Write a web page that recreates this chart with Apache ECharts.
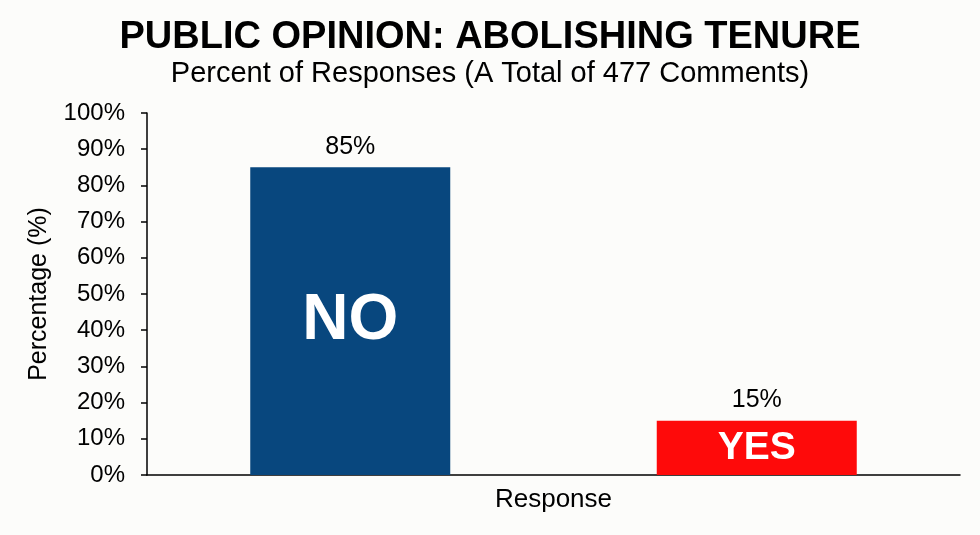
<!DOCTYPE html>
<html>
<head>
<meta charset="utf-8">
<script src="https://cdn.jsdelivr.net/npm/echarts@6/dist/echarts.min.js"></script>
<style>
  html, body { margin: 0; padding: 0; background: #fcfcfa; }
  #chart { width: 980px; height: 535px; }
</style>
</head>
<body>
<div id="chart"></div>
<script>
// data
const categories = ['NO', 'YES'];
const percentages = [85, 15];
const barColors = ['#08477e', '#fe0a0a'];
const insideSizes = [64, 39];

const chart = echarts.init(document.getElementById('chart'));
const font = '"Liberation Sans", Arial, sans-serif';

const option = {
    backgroundColor: '#fcfcfa',
    textStyle: { fontFamily: font },
    title: {
        text: 'PUBLIC OPINION: ABOLISHING TENURE',
        subtext: 'Percent of Responses (A Total of 477 Comments)',
        left: 'center',
        top: 14,
        itemGap: 2,
        textStyle: { fontFamily: font, fontSize: 38, fontWeight: 'bold', color: '#000' },
        subtextStyle: { fontFamily: font, fontSize: 29, color: '#000' },
    },
    grid: { left: 147, right: 20, top: 113, bottom: 60 },
    xAxis: {
        type: 'category',
        data: categories,
        name: 'Response',
        nameLocation: 'middle',
        nameGap: 12,
        nameTextStyle: { fontFamily: font, fontSize: 26, color: '#000' },
        axisLine: { lineStyle: { color: '#000', width: 1.5 } },
        axisTick: { show: false },
        axisLabel: { show: false },
    },
    yAxis: {
        type: 'value',
        min: 0,
        max: 100,
        interval: 10,
        name: 'Percentage (%)',
        nameLocation: 'middle',
        nameGap: 95,
        nameTextStyle: { fontFamily: font, fontSize: 25, color: '#000' },
        axisLine: { show: true, lineStyle: { color: '#000', width: 1.5 } },
        axisTick: { show: true, length: 6, lineStyle: { color: '#000', width: 1.5 } },
        axisLabel: { formatter: '{value}%', fontFamily: font, fontSize: 24, color: '#000', margin: 22 },
        splitLine: { show: false },
    },
    series: [
        {
            type: 'bar',
            barWidth: 200,
            data: percentages.map((v, i) => ({ value: v, itemStyle: { color: barColors[i] } })),
            label: {
                show: true,
                position: 'top',
                distance: 8,
                formatter: '{c}%',
                fontFamily: font,
                fontSize: 25,
                color: '#000',
            },
        },
        {
            type: 'bar',
            barWidth: 200,
            barGap: '-100%',
            silent: true,
            data: percentages.map((v, i) => ({
                value: v,
                itemStyle: { color: 'transparent' },
                label: { fontSize: insideSizes[i] },
            })),
            label: {
                show: true,
                position: 'inside',
                formatter: (p) => categories[p.dataIndex],
                fontFamily: font,
                fontWeight: 'bold',
                color: '#fff',
            },
        },
    ],
};

chart.setOption(option);
</script>
</body>
</html>
